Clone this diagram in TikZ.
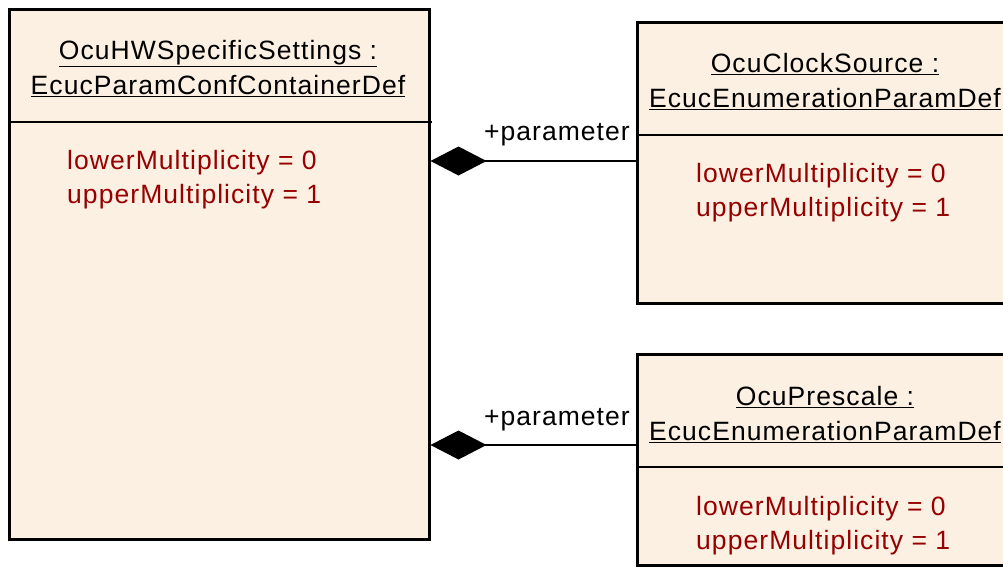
\documentclass[tikz,border=0pt]{standalone}
\usepackage{fontspec}
\setmainfont[LetterSpace=4]{Liberation Sans}
\usetikzlibrary{arrows.meta, positioning}
\definecolor{boxfill}{RGB}{251,240,226}
\definecolor{attred}{RGB}{150,0,0}
\tikzset{%
    cls/.style={rectangle, draw, line width=2.5pt, fill=boxfill, inner sep=0pt, anchor=north west},
    sep/.style={line width=2.5pt},
    nam/.style={align=center, inner sep=0pt, font=\fontsize{26.5}{35}\selectfont},
    att/.style={align=left, inner sep=0pt, anchor=west, text=attred, font=\fontsize{26.5}{34.5}\selectfont},
    comp/.style={line width=2.5pt, {Diamond[length=56pt, width=29pt]}-},
    lab/.style={inner sep=0pt, anchor=east, font=\fontsize{26.5}{30}\selectfont},
}
\begin{document}
\begin{tikzpicture}[x=1pt, y=-1pt]
    \clip (0,0) rectangle (1003,566);
    \useasboundingbox (0,0) rectangle (1003,566);
    % container
    \node[cls, minimum width=420pt, minimum height=530pt] (hw) at (8,8) {};
    \draw[sep] (hw.west |- 0,122) -- (432,122);
    \node[nam] (hwname) at (218,68.5) {\underline{OcuHWSpecificSettings :}\\\underline{EcucParamConfContainerDef}};
    \node[att] (hwatt) at (67,179.5) {lowerMultiplicity = 0\\upperMultiplicity = 1};
    % parameters
    \node[cls, minimum width=380pt, minimum height=281pt] (clk) at (636,21) {};
    \draw[sep] (clk.west |- 0,135) -- (clk.east |- 0,135);
    \node[nam] (clkname) at (825,82) {\underline{OcuClockSource :}\\\underline{EcucEnumerationParamDef}};
    \node[att] (clkatt) at (696,192.5) {lowerMultiplicity = 0\\upperMultiplicity = 1};
    \node[cls, minimum width=380pt, minimum height=211pt] (pre) at (636,353) {};
    \draw[sep] (pre.west |- 0,467) -- (pre.east |- 0,467);
    \node[nam] (prename) at (825,415) {\underline{OcuPrescale :}\\\underline{EcucEnumerationParamDef}};
    \node[att] (preatt) at (696,525.5) {lowerMultiplicity = 0\\upperMultiplicity = 1};
    % compositions
    \coordinate (p1) at (clk.west |- 0,161);
    \coordinate (p2) at (pre.west |- 0,445);
    \draw[comp] (hw.east |- p1) -- (p1);
    \draw[comp] (hw.east |- p2) -- (p2);
    \node[lab] (l1) at (630,135) {+parameter};
    \node[lab] (l2) at (630,420) {+parameter};
\end{tikzpicture}
\end{document}
